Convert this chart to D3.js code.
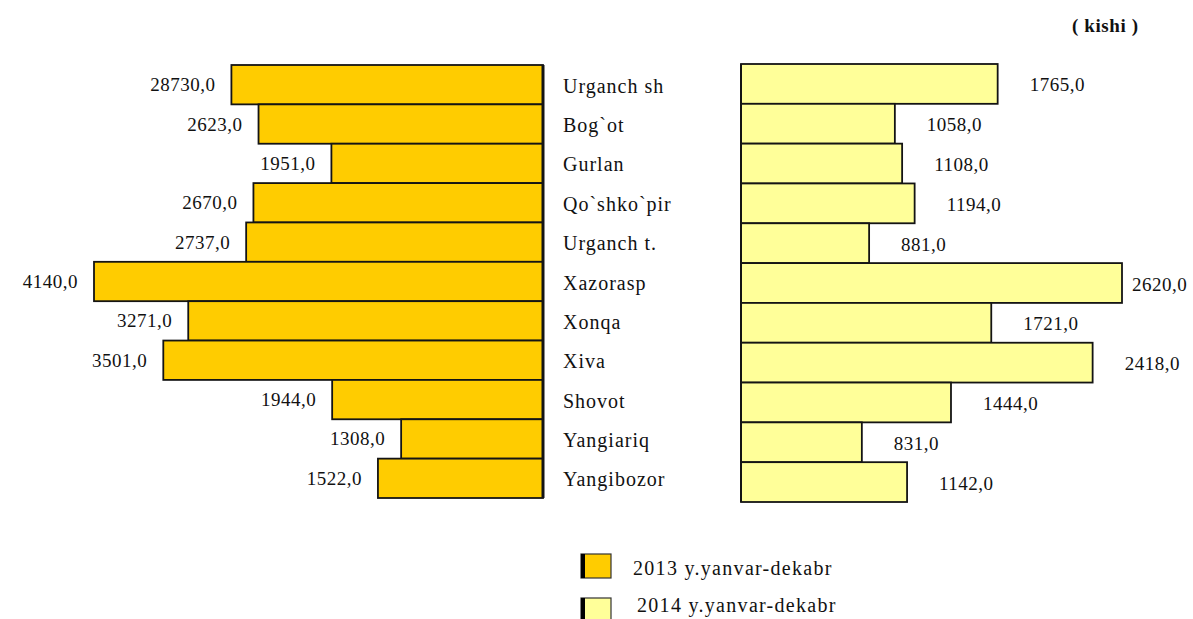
<!DOCTYPE html>
<html>
<head>
<meta charset="utf-8">
<script src="https://cdn.jsdelivr.net/npm/d3@7"></script>
<style>
  html, body { margin: 0; padding: 0; background: #ffffff; }
  svg { display: block; }
  text { font-family: "Liberation Serif", "Times New Roman", serif; fill: #111; }
</style>
</head>
<body>
<svg id="chart" width="1193" height="619"></svg>
<script>
// ---- data ----
const categories = ["Urganch sh", "Bog`ot", "Gurlan", "Qo`shko`pir", "Urganch t.", "Xazorasp", "Xonqa", "Xiva", "Shovot", "Yangiariq", "Yangibozor"];
const values2013 = [2873, 2623, 1951, 2670, 2737, 4140, 3271, 3501, 1944, 1308, 1522];
const labels2013 = ["28730,0", "2623,0", "1951,0", "2670,0", "2737,0", "4140,0", "3271,0", "3501,0", "1944,0", "1308,0", "1522,0"];
const values2014 = [1765, 1058, 1108, 1194, 881, 2620, 1721, 2418, 1444, 831, 1142];
const labels2014 = ["1765,0", "1058,0", "1108,0", "1194,0", "881,0", "2620,0", "1721,0", "2418,0", "1444,0", "831,0", "1142,0"];
const seriesNames = ["2013 y.yanvar-dekabr", "2014 y.yanvar-dekabr"];
const unitLabel = "( kishi )";

// ---- styles ----
const W = 1193, H = 619;
const colL = "#FFCC00", colR = "#FFFF99";
const edge = "#141414";

const svg = d3.select("#chart");
svg.append("rect").attr("width", W).attr("height", H).attr("fill", "#fff");

const yL = d3.scaleBand().domain(categories).range([65, 498]).padding(0);
const yR = d3.scaleBand().domain(categories).range([64, 502]).padding(0);
const xL = d3.scaleLinear().domain([0, 4140]).range([543, 94]);
const xR = d3.scaleLinear().domain([0, 2620]).range([741, 1122]);

const rowsL = categories.map((c, i) => ({ c, v: values2013[i], t: labels2013[i] }));
const rowsR = categories.map((c, i) => ({ c, v: values2014[i], t: labels2014[i] }));

// left bars
svg.append("g").selectAll("rect").data(rowsL).join("rect")
  .attr("x", d => xL(d.v))
  .attr("y", d => yL(d.c))
  .attr("width", d => xL(0) - xL(d.v))
  .attr("height", yL.bandwidth())
  .attr("fill", colL)
  .attr("stroke", edge)
  .attr("stroke-width", 1.8);

// right bars
svg.append("g").selectAll("rect").data(rowsR).join("rect")
  .attr("x", xR(0))
  .attr("y", d => yR(d.c))
  .attr("width", d => xR(d.v) - xR(0))
  .attr("height", yR.bandwidth())
  .attr("fill", colR)
  .attr("stroke", edge)
  .attr("stroke-width", 1.8);

// base edges
svg.append("line").attr("x1", xL(0)).attr("x2", xL(0))
  .attr("y1", yL.range()[0]).attr("y2", yL.range()[1])
  .attr("stroke", edge).attr("stroke-width", 3);
svg.append("line").attr("x1", xR(0)).attr("x2", xR(0))
  .attr("y1", yR.range()[0]).attr("y2", yR.range()[1])
  .attr("stroke", edge).attr("stroke-width", 2);

// left value labels
svg.append("g").selectAll("text").data(rowsL).join("text")
  .attr("x", d => xL(d.v) - 16)
  .attr("y", d => yL(d.c) + yL.bandwidth() / 2)
  .attr("text-anchor", "end")
  .attr("dominant-baseline", "central")
  .style("font-size", "19px")
  .style("letter-spacing", "0.5px")
  .text(d => d.t);

// right value labels
svg.append("g").selectAll("text").data(rowsR).join("text")
  .attr("x", d => Math.min(xR(d.v) + 32, 1132))
  .attr("y", d => yR(d.c) + yR.bandwidth() / 2 + 1)
  .attr("text-anchor", "start")
  .attr("dominant-baseline", "central")
  .style("font-size", "19px")
  .style("letter-spacing", "0.5px")
  .text(d => d.t);

// category labels
svg.append("g").selectAll("text").data(categories).join("text")
  .attr("x", 563)
  .attr("y", d => yL(d) + yL.bandwidth() / 2 + 1)
  .attr("dominant-baseline", "central")
  .style("font-size", "20px")
  .style("letter-spacing", "1px")
  .text(d => d);

// unit label
svg.append("text")
  .attr("x", 1072).attr("y", 25)
  .attr("dominant-baseline", "central")
  .style("font-size", "19px")
  .style("font-weight", "bold")
  .style("letter-spacing", "0.6px")
  .text(unitLabel);

// legend
const legend = svg.append("g");
const legItems = [
  { name: seriesNames[0], fill: colL, y: 554, tx: 633, ty: 568 },
  { name: seriesNames[1], fill: colR, y: 598, tx: 637, ty: 605 }
];
legItems.forEach(it => {
  legend.append("rect").attr("x", 581).attr("y", it.y).attr("width", 30).attr("height", 24)
    .attr("fill", it.fill).attr("stroke", "#333").attr("stroke-width", 1.2);
  legend.append("rect").attr("x", 581).attr("y", it.y).attr("width", 4).attr("height", 24)
    .attr("fill", "#000");
  legend.append("text").attr("x", it.tx).attr("y", it.ty)
    .attr("dominant-baseline", "central")
    .style("font-size", "20px")
    .style("letter-spacing", "1.3px")
    .text(it.name);
});
</script>
</body>
</html>
